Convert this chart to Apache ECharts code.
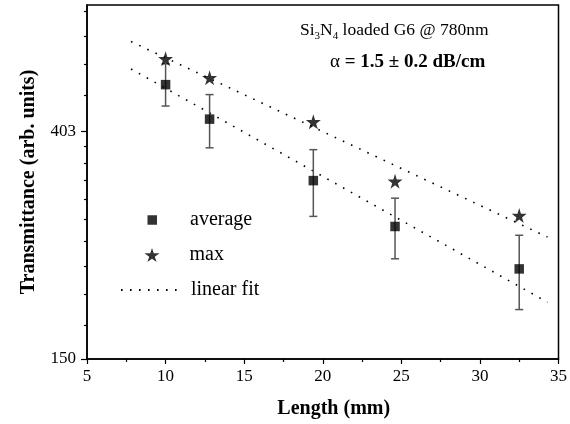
<!DOCTYPE html>
<html>
<head>
<meta charset="utf-8">
<script src="https://cdn.jsdelivr.net/npm/echarts@6/dist/echarts.min.js"></script>
<style>
  html, body { margin: 0; padding: 0; background: #fff; }
  #chart { width: 570px; height: 424px; }
</style>
</head>
<body>
<div id="chart"></div>
<script>
(function(){
  /** Data */
  var lengths = [10, 12.8, 19.4, 24.6, 32.5];
  var averageT = [495, 426, 326, 267, 222];
  var averageLow = [451, 376, 279, 232, 186];
  var averageHigh = [542, 474, 373, 302, 257];
  var maxT = [554, 510, 421, 325, 280];

  var fitX = [7.8, 34.3];
  var fitMax = [597, 255];
  var fitAvg = [530, 192];

  var xTicks = [5, 10, 15, 20, 25, 30, 35];
  var yTickValues = [150, 403.4];
  var yTickLabels = ['150', '403'];
  var yMinorTicks = [174, 199, 225, 250, 276, 301, 327, 352, 378, 473, 542, 611, 681];
  var yRange = [150, 700];

  var serif = 'Liberation Serif';
  var star = 'path://M50,0 L61,35 L98,35 L68,57 L79,91 L50,70 L21,91 L32,57 L2,35 L39,35 Z';
  var legendText = { fontFamily: serif, fontSize: 20, color: '#000', lineHeight: 20 };

  // y axis is natural-log scaled, so values go through Math.log
  function ln(v) { return Math.log(v); }
  function pairs(xs, ys) {
    return xs.map(function(x, i) { return [x, ln(ys[i])]; });
  }
  var errData = lengths.map(function(x, i) {
    return [x, ln(averageLow[i]), ln(averageHigh[i])];
  });

  var option = {
    animation: false,
    backgroundColor: '#fff',
    grid: {
      left: 87, right: 9, top: 5, bottom: 65,
      show: true, borderColor: '#000', borderWidth: 1.5
    },
    xAxis: {
      type: 'value',
      min: xTicks[0], max: xTicks[xTicks.length - 1], interval: 5,
      name: 'Length (mm)',
      nameLocation: 'middle',
      nameGap: 40,
      nameTextStyle: {
        fontFamily: serif, fontWeight: 'bold', fontSize: 20, color: '#000',
        padding: [0, 0, 0, 22]
      },
      axisLine: { lineStyle: { color: '#000', width: 1.5 } },
      axisTick: { length: 5, lineStyle: { color: '#000', width: 1.2 } },
      minorTick: { show: true, splitNumber: 2, length: 3, lineStyle: { color: '#000', width: 1.2 } },
      axisLabel: { fontFamily: serif, fontSize: 17, color: '#000', margin: 9 },
      splitLine: { show: false }
    },
    yAxis: [{
      type: 'value',
      min: ln(yRange[0]), max: ln(yRange[1]),
      name: 'Transmittance (arb. units)',
      nameLocation: 'middle',
      nameGap: 48,
      nameTextStyle: { fontFamily: serif, fontWeight: 'bold', fontSize: 20, color: '#000' },
      axisLine: { lineStyle: { color: '#000', width: 1.5 } },
      axisTick: {
        length: 6, customValues: yTickValues.map(ln),
        lineStyle: { color: '#000', width: 1.2 }
      },
      axisLabel: {
        fontFamily: serif, fontSize: 17, color: '#000', margin: 11,
        customValues: yTickValues.map(ln),
        formatter: function(v) {
          var best = 0;
          yTickValues.forEach(function(t, i) {
            if (Math.abs(ln(t) - v) < Math.abs(ln(yTickValues[best]) - v)) best = i;
          });
          return yTickLabels[best];
        }
      },
      splitLine: { show: false }
    }, {
      type: 'value',
      position: 'left',
      min: ln(yRange[0]), max: ln(yRange[1]),
      axisLine: { show: false },
      axisTick: {
        length: 3, customValues: yMinorTicks.map(ln),
        lineStyle: { color: '#000', width: 1.2 }
      },
      axisLabel: { show: false },
      splitLine: { show: false }
    }],
    legend: [{
      data: [{ name: 'average', icon: 'rect' }],
      left: 142.5, top: 205, itemWidth: 9.5, itemHeight: 9.5,
      textStyle: Object.assign({ padding: [0, 0, 0, 28] }, legendText)
    }, {
      data: [{ name: 'max', icon: star }],
      left: 139.5, top: 240, itemWidth: 15, itemHeight: 15,
      textStyle: Object.assign({ padding: [0, 0, 0, 25] }, legendText)
    }, {
      data: [{
        name: 'linear fit',
        itemStyle: { color: 'rgba(0,0,0,0)', borderColor: 'rgba(0,0,0,0)', borderWidth: 0 }
      }],
      left: 115, top: 275, itemWidth: 58, itemHeight: 10,
      textStyle: Object.assign({ padding: [0, 0, 0, 7] }, legendText)
    }],
    graphic: [{
      type: 'text', left: 300, top: 21,
      style: {
        text: '{n|Si}{s|3}{n|N}{s|4}{n| loaded G6 @ 780nm}',
        rich: {
          n: { fontFamily: serif, fontSize: 17.5, color: '#000', lineHeight: 24, verticalAlign: 'middle' },
          s: { fontFamily: serif, fontSize: 11, color: '#000', lineHeight: 11, verticalAlign: 'bottom' }
        }
      }
    }, {
      type: 'text', left: 330, top: 53,
      style: {
        text: '{a|α }{b|= 1.5 ± 0.2 dB/cm}',
        rich: {
          a: { fontFamily: serif, fontSize: 19, color: '#000' },
          b: { fontFamily: serif, fontSize: 19, fontWeight: 'bold', color: '#000' }
        }
      }
    }],
    series: [{
      name: 'linear fit',
      type: 'line',
      data: pairs(fitX, fitMax),
      symbol: 'none',
      lineStyle: { color: '#000', width: 1.6, type: [1.6, 7.4] },
      z: 1
    }, {
      name: 'linear fit',
      type: 'line',
      data: pairs(fitX, fitAvg),
      symbol: 'none',
      lineStyle: { color: '#000', width: 1.6, type: [1.6, 7.4] },
      z: 1
    }, {
      name: 'error',
      type: 'custom',
      data: errData,
      renderItem: function(params, api) {
        var lo = api.coord([api.value(0), api.value(1)]);
        var hi = api.coord([api.value(0), api.value(2)]);
        var w = 4;
        var style = { stroke: '#555', lineWidth: 1.5 };
        return {
          type: 'group',
          children: [
            { type: 'line', shape: { x1: hi[0], y1: hi[1], x2: lo[0], y2: lo[1] }, style: style },
            { type: 'line', shape: { x1: hi[0] - w, y1: hi[1], x2: hi[0] + w, y2: hi[1] }, style: style },
            { type: 'line', shape: { x1: lo[0] - w, y1: lo[1], x2: lo[0] + w, y2: lo[1] }, style: style }
          ]
        };
      },
      z: 2
    }, {
      name: 'average',
      type: 'scatter',
      data: pairs(lengths, averageT),
      symbol: 'rect',
      symbolSize: 9.5,
      itemStyle: { color: '#000' },
      z: 3
    }, {
      name: 'max',
      type: 'scatter',
      data: pairs(lengths, maxT),
      symbol: star,
      symbolSize: 15,
      itemStyle: { color: '#000' },
      z: 3
    }]
  };

  echarts.init(document.getElementById('chart')).setOption(option);
})();
</script>
</body>
</html>
